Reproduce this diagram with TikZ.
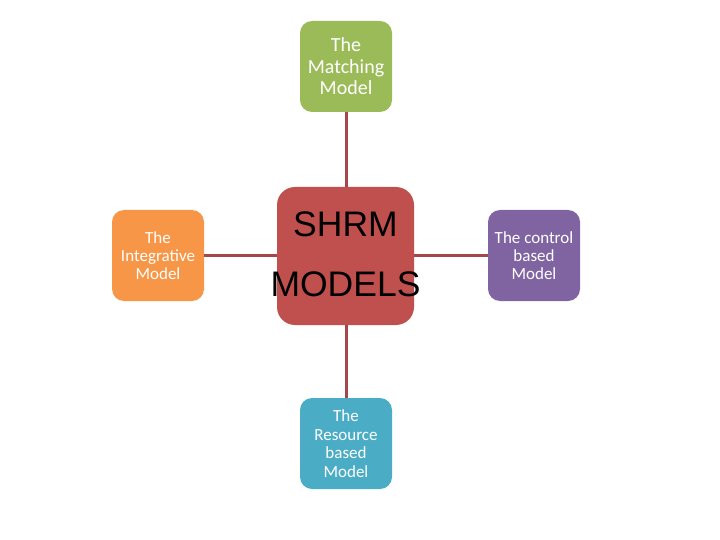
\documentclass[tikz,border=0pt]{standalone}
\usepackage{fontspec}
\setmainfont{Carlito}
\newfontfamily\arialfont{Liberation Sans}
\definecolor{cgreen}{HTML}{9BBB59}
\definecolor{corange}{HTML}{F79646}
\definecolor{cpurple}{HTML}{8064A2}
\definecolor{cblue}{HTML}{4BACC6}
\definecolor{cred}{HTML}{C0504D}
\definecolor{cline}{HTML}{A5474A}
\tikzset{
  model/.style={rectangle, rounded corners=12pt, fill=#1, minimum width=92pt, minimum height=91pt, inner sep=0pt, align=center, text=white, font=\fontsize{17}{18}\selectfont},
  hub/.style={rectangle, rounded corners=18pt, fill=cred, minimum width=137pt, minimum height=138pt, inner sep=0pt},
  hubtext/.style={inner sep=0pt, align=center, text=black, font=\arialfont\fontsize{35.5}{60}\selectfont},
  link/.style={draw=cline, line width=3pt}
}
\begin{document}
\begin{tikzpicture}[x=1pt,y=-1pt]
\useasboundingbox (0,0) rectangle (720,540);
\node[hub] (c) at (345.5,256) {};
\node[hubtext] (ct) at (345.5,254) {SHRM\\MODELS};
\node[model=cgreen, font=\fontsize{20}{21.5}\selectfont] (t) at (346,66.5) {The\\Matching\\Model};
\node[model=corange] (l) at (158,255.5) {The\\Integrative\\Model};
\node[model=cpurple] (r) at (534,255.5) {The control\\based\\Model};
\node[model=cblue, font=\fontsize{17}{18.5}\selectfont] (b) at (346,443.5) {The\\Resource\\based\\Model};
\draw[link] (t.south) -- (c.north -| t.south);
\draw[link] (l.east) -- (c.west |- l.east);
\draw[link] (r.west) -- (c.east |- r.west);
\draw[link] (b.north) -- (c.south -| b.north);
\end{tikzpicture}
\end{document}
